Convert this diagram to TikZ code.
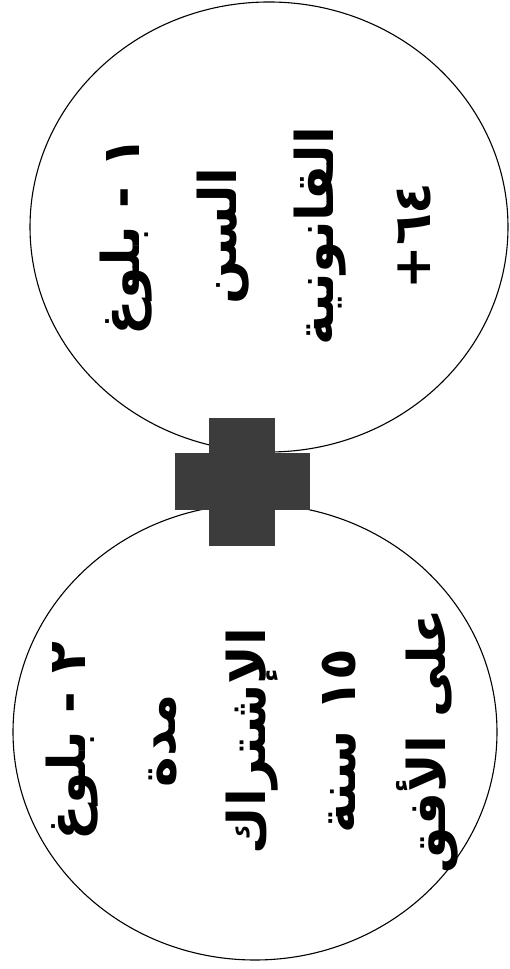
\documentclass[tikz,border=0pt]{standalone}
\usepackage{fontspec}
\newfontfamily\arabicfont[Script=Arabic]{DejaVu Sans}
\TeXXeTstate=1
\usetikzlibrary{shapes.geometric}
\definecolor{plusgray}{HTML}{3C3C3C}

\tikzset{
  ring/.style={ellipse, draw=black, line width=1.1pt, inner sep=0pt, fill=white},
  ringtext/.style={rotate=90, align=center, inner sep=0pt,
                   font=\arabicfont\bfseries\fontsize{52}{#1}\selectfont},
  plusbar/.style={fill=plusgray, inner sep=0pt, draw=none}
}

\begin{document}
\begin{tikzpicture}[x=1pt, y=1pt]
  \useasboundingbox (0,0) rectangle (509,969);
  % the two conditions
  \node[ring, minimum width=478pt, minimum height=450pt] (age) at (269,742) {};
  \node[ring, minimum width=484pt, minimum height=456pt] (service) at (255,237) {};
  \node[ringtext=97] (agetext) at (265,733) {%
    \beginR ١ - بلوغ\endR\\
    \beginR السن\endR\\
    \beginR القانونية\endR\\
    \beginR \beginL +\kern0pt٦\kern0pt٤\endL\endR};
  \node[ringtext=90] (servicetext) at (252,228) {%
    \beginR ٢ - بلوغ\endR\\
    \beginR مدة\endR\\
    \beginR الإشتراك\endR\\
    \beginR \beginL ١\kern0pt٥\endL\ سنة\endR\\
    \beginR على الأفق\endR};
  % plus sign between them
  \node[plusbar, minimum width=66pt, minimum height=128pt] (plusv) at (242,487) {};
  \node[plusbar, minimum width=135pt, minimum height=57pt] (plush) at (plusv.center) {};
\end{tikzpicture}
\end{document}
